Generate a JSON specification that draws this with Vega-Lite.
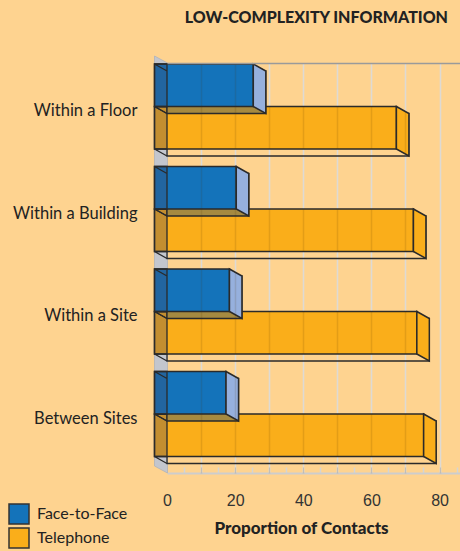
{
  "$schema": "https://vega.github.io/schema/vega-lite/v6.json",
  "width": 293,
  "height": 410,
  "autosize": {"type": "none"},
  "padding": {"left": 167, "top": 63, "right": 0, "bottom": 78},
  "background": "#FED390",
  "config": {"view": {"stroke": null}, "font": "Lato"},
  "title": {"text": "LOW-COMPLEXITY INFORMATION", "anchor": "end", "font": "Lato", "fontWeight": 900, "fontSize": 16, "color": "#222222", "offset": 28, "dx": -12},
  "data": {"values": [
    {"category": "Within a Floor", "series": "Face-to-Face", "value": 29},
    {"category": "Within a Floor", "series": "Telephone", "value": 71},
    {"category": "Within a Building", "series": "Face-to-Face", "value": 24},
    {"category": "Within a Building", "series": "Telephone", "value": 76},
    {"category": "Within a Site", "series": "Face-to-Face", "value": 22},
    {"category": "Within a Site", "series": "Telephone", "value": 77},
    {"category": "Between Sites", "series": "Face-to-Face", "value": 21},
    {"category": "Between Sites", "series": "Telephone", "value": 79}
  ]},
  "resolve": {"scale": {"x": "independent", "y": "independent", "yOffset": "independent"}, "axis": {"x": "independent", "y": "independent"}},
  "layer": [
    {
      "data": {"values": [{}]},
      "mark": {"type": "point", "shape": "M-12.5,-212L0.5,-205L0.5,205L-12.5,198Z", "size": 4, "filled": true, "fill": "#C3C6CE", "stroke": "#AEB2BA", "strokeWidth": 0.8, "opacity": 1},
      "encoding": {"x": {"datum": 0, "type": "quantitative", "scale": {"domain": [0, 86], "nice": false}, "axis": null}}
    },
    {
      "transform": [{"filter": "datum.series === 'Telephone'"}],
      "mark": {"type": "bar", "fill": null, "fillOpacity": 0, "stroke": "#2A2A2A", "strokeWidth": 1.3},
      "encoding": {
        "x": {"field": "value", "type": "quantitative", "stack": null, "title": "Proportion of Contacts", "scale": {"domain": [0, 86], "nice": false},
          "axis": {"orient": "bottom", "values": [0, 5, 10, 15, 20, 25, 30, 35, 40, 45, 50, 55, 60, 65, 70, 75, 80, 85],
            "grid": true, "gridColor": "#F4F4F4", "gridWidth": 1.5,
            "gridOpacity": {"condition": {"test": "datum.value % 10 === 0 && datum.value > 0", "value": 1}, "value": 0},
            "domainColor": "#CDCDCD", "domainWidth": 2, "tickColor": "#D4D4D4", "tickSize": -6, "tickWidth": 1.5,
            "tickOpacity": {"condition": {"test": "datum.value > 0", "value": 1}, "value": 0},
            "labelExpr": "datum.value % 20 === 0 ? datum.label : ''", "labelFont": "Liberation Sans", "labelFontSize": 16, "labelColor": "#333333", "labelPadding": 25, "labelFlush": false, "labelOverlap": false,
            "titleFont": "Lato", "titleFontWeight": 900, "titleFontSize": 17, "titleColor": "#222222", "titlePadding": 12, "titleX": 134}},
        "y": {"field": "category", "type": "nominal", "sort": ["Within a Floor", "Within a Building", "Within a Site", "Between Sites"], "scale": {"paddingInner": 0.1707, "paddingOuter": 0.0854, "align": 0.457}, "axis": null},
        "yOffset": {"field": "series", "type": "nominal", "sort": ["Face-to-Face", "Telephone"], "scale": {"domain": ["Face-to-Face", "Telephone"], "paddingInner": 0, "paddingOuter": 0}}
      }
    },
    {
      "transform": [{"filter": "datum.series === 'Telephone'"}],
      "mark": {"type": "bar", "stroke": "#2A2A2A", "strokeWidth": 1.5, "opacity": 1},
      "encoding": {
        "x": {"field": "value", "type": "quantitative", "stack": null, "scale": {"domain": [3.669, 89.669], "nice": false, "zero": false}, "axis": null},
        "x2": {"datum": 0},
        "y": {"field": "category", "type": "nominal", "sort": ["Within a Floor", "Within a Building", "Within a Site", "Between Sites"], "scale": {"paddingInner": 0.1707, "paddingOuter": 0.0854, "align": 0.057},
          "axis": {"orient": "left", "title": null, "domain": false, "ticks": false, "grid": false, "labelFont": "Lato", "labelFontSize": 16.5, "labelColor": "#222222", "labelPadding": 30, "labelOffset": 5}},
        "yOffset": {"field": "series", "type": "nominal", "sort": ["Face-to-Face", "Telephone"], "scale": {"domain": ["Face-to-Face", "Telephone"], "paddingInner": 0, "paddingOuter": 0}},
        "color": {"field": "series", "type": "nominal", "scale": {"domain": ["Face-to-Face", "Telephone"], "range": ["#1473BA", "#FAAE1A"]},
          "legend": {"orient": "none", "legendX": -159, "legendY": 440, "title": null, "symbolType": "square", "symbolSize": 400, "symbolStrokeColor": "#333333", "symbolStrokeWidth": 1.5, "symbolOpacity": 1, "labelFont": "Lato", "labelFontSize": 16, "labelColor": "#222222", "labelOffset": 7, "rowPadding": -4}}
      }
    },
    {
      "transform": [{"filter": "datum.series === 'Telephone'"}],
      "mark": {"type": "point", "shape": "M-12.5,-21.25H0V21.25H-12.5ZM-12.5,-21.25L0,-14.25M-12.5,21.25L0,28.25", "size": 4, "filled": true, "fill": "#464664", "fillOpacity": 0.3, "stroke": "#2A2A2A", "strokeWidth": 1.3, "opacity": 1},
      "encoding": {
        "x": {"datum": 0, "type": "quantitative", "scale": {"domain": [0, 86], "nice": false}, "axis": null},
        "y": {"field": "category", "type": "nominal", "sort": ["Within a Floor", "Within a Building", "Within a Site", "Between Sites"], "scale": {"paddingInner": 0.1707, "paddingOuter": 0.0854, "align": 0.057}, "axis": null},
        "yOffset": {"field": "series", "type": "nominal", "sort": ["Face-to-Face", "Telephone"], "scale": {"domain": ["Face-to-Face", "Telephone"], "padding": 0.5}}
      }
    },
    {
      "transform": [{"filter": "datum.series === 'Telephone'"}],
      "mark": {"type": "point", "shape": "M-12.5,-21.25L0,-14.25L0,28.25L-12.5,21.25Z", "size": 4, "filled": true, "fill": "#FAAE1A", "stroke": "#2A2A2A", "strokeWidth": 1.5, "opacity": 1},
      "encoding": {
        "x": {"field": "value", "type": "quantitative", "scale": {"domain": [0, 86], "nice": false}, "axis": null},
        "y": {"field": "category", "type": "nominal", "sort": ["Within a Floor", "Within a Building", "Within a Site", "Between Sites"], "scale": {"paddingInner": 0.1707, "paddingOuter": 0.0854, "align": 0.057}, "axis": null},
        "yOffset": {"field": "series", "type": "nominal", "sort": ["Face-to-Face", "Telephone"], "scale": {"domain": ["Face-to-Face", "Telephone"], "padding": 0.5}}
      }
    },
    {
      "transform": [{"filter": "datum.series === 'Face-to-Face'"}],
      "mark": {"type": "bar", "fill": "#A68A40", "stroke": "#2A2A2A", "strokeWidth": 1.3, "opacity": 1},
      "encoding": {
        "x": {"field": "value", "type": "quantitative", "stack": null, "scale": {"domain": [0, 86], "nice": false},
          "axis": {"orient": "top", "zindex": 1, "values": [10, 20, 30, 40, 50, 60, 70, 80], "grid": true, "gridColor": "#4A3000", "gridOpacity": 0.13, "gridWidth": 1.5, "domain": true, "domainColor": "#9A9A9A", "domainWidth": 1.5, "ticks": false, "labels": false, "title": null}},
        "y": {"field": "category", "type": "nominal", "sort": ["Within a Floor", "Within a Building", "Within a Site", "Between Sites"], "scale": {"paddingInner": 0.1707, "paddingOuter": 0.0854, "align": 0.457}, "axis": null},
        "yOffset": {"field": "series", "type": "nominal", "sort": ["Face-to-Face", "Telephone"], "scale": {"domain": ["Face-to-Face", "Telephone"], "paddingInner": 0, "paddingOuter": 0}}
      }
    },
    {
      "transform": [{"filter": "datum.series === 'Face-to-Face'"}],
      "mark": {"type": "bar", "stroke": "#2A2A2A", "strokeWidth": 1.5, "opacity": 1},
      "encoding": {
        "x": {"field": "value", "type": "quantitative", "stack": null, "scale": {"domain": [3.669, 89.669], "nice": false, "zero": false}, "axis": null},
        "x2": {"datum": 0},
        "y": {"field": "category", "type": "nominal", "sort": ["Within a Floor", "Within a Building", "Within a Site", "Between Sites"], "scale": {"paddingInner": 0.1707, "paddingOuter": 0.0854, "align": 0.057}, "axis": null},
        "yOffset": {"field": "series", "type": "nominal", "sort": ["Face-to-Face", "Telephone"], "scale": {"domain": ["Face-to-Face", "Telephone"], "paddingInner": 0, "paddingOuter": 0}},
        "color": {"field": "series", "type": "nominal", "scale": {"domain": ["Face-to-Face", "Telephone"], "range": ["#1473BA", "#FAAE1A"]},
          "legend": {"orient": "none", "legendX": -159, "legendY": 440, "title": null, "symbolType": "square", "symbolSize": 400, "symbolStrokeColor": "#333333", "symbolStrokeWidth": 1.5, "symbolOpacity": 1, "labelFont": "Lato", "labelFontSize": 16, "labelColor": "#222222", "labelOffset": 7, "rowPadding": -4}}
      }
    },
    {
      "transform": [{"filter": "datum.series === 'Face-to-Face'"}],
      "mark": {"type": "point", "shape": "M-12.5,-21.25H0V21.25H-12.5ZM-12.5,-21.25L0,-14.25M-12.5,21.25L0,28.25", "size": 4, "filled": true, "fill": "#464664", "fillOpacity": 0.3, "stroke": "#2A2A2A", "strokeWidth": 1.3, "opacity": 1},
      "encoding": {
        "x": {"datum": 0, "type": "quantitative", "scale": {"domain": [0, 86], "nice": false}, "axis": null},
        "y": {"field": "category", "type": "nominal", "sort": ["Within a Floor", "Within a Building", "Within a Site", "Between Sites"], "scale": {"paddingInner": 0.1707, "paddingOuter": 0.0854, "align": 0.057}, "axis": null},
        "yOffset": {"field": "series", "type": "nominal", "sort": ["Face-to-Face", "Telephone"], "scale": {"domain": ["Face-to-Face", "Telephone"], "padding": 0.5}}
      }
    },
    {
      "transform": [{"filter": "datum.series === 'Face-to-Face'"}],
      "mark": {"type": "point", "shape": "M-12.5,-21.25L0,-14.25L0,28.25L-12.5,21.25Z", "size": 4, "filled": true, "fill": "#96B0DD", "stroke": "#2A2A2A", "strokeWidth": 1.5, "opacity": 1},
      "encoding": {
        "x": {"field": "value", "type": "quantitative", "scale": {"domain": [0, 86], "nice": false}, "axis": null},
        "y": {"field": "category", "type": "nominal", "sort": ["Within a Floor", "Within a Building", "Within a Site", "Between Sites"], "scale": {"paddingInner": 0.1707, "paddingOuter": 0.0854, "align": 0.057}, "axis": null},
        "yOffset": {"field": "series", "type": "nominal", "sort": ["Face-to-Face", "Telephone"], "scale": {"domain": ["Face-to-Face", "Telephone"], "padding": 0.5}}
      }
    }
  ]
}
